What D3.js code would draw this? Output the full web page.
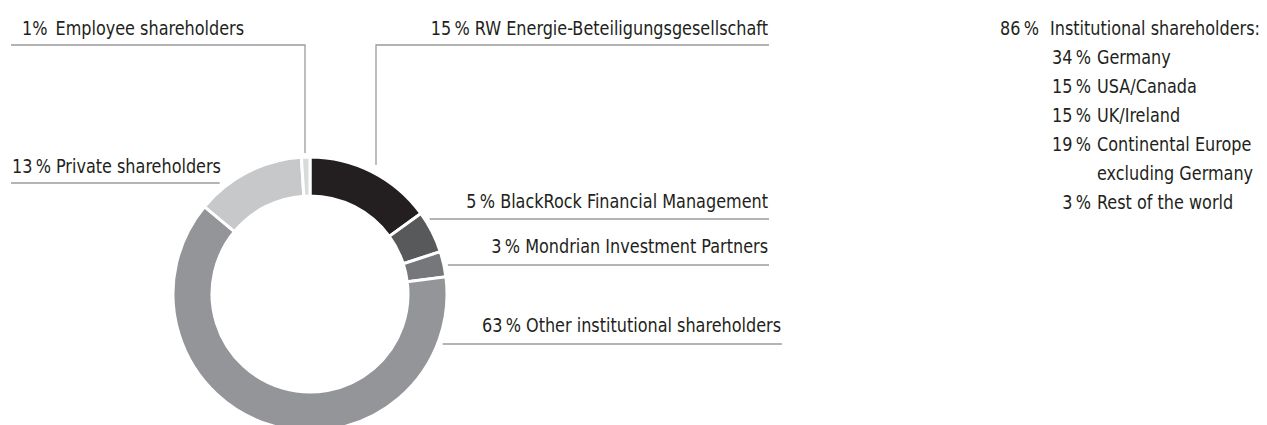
<!DOCTYPE html>
<html>
<head>
<meta charset="utf-8" />
<title>Shareholder structure</title>
<style>
    body { margin: 0; background: #fff; }
    svg text {
        font-family: "Liberation Sans Narrow", "DejaVu Sans Condensed", "Roboto", sans-serif;
        font-size: 19px;
        fill: #231f20;
    }
    .leader { stroke: #9a9b9e; stroke-width: 1.3px; fill: none; }
</style>
</head>
<body>
<div id="chart"></div>
<script src="https://cdn.jsdelivr.net/npm/d3@7"></script>
<script>
// shareholder groups, clockwise from 12 o'clock
var groups = ["RW Energie-Beteiligungsgesellschaft", "BlackRock Financial Management",
    "Mondrian Investment Partners", "Other institutional shareholders",
    "Private shareholders", "Employee shareholders"];
var shares = [15, 5, 3, 63, 13, 1];
var sliceColors = ["#231f20", "#58595b", "#76777a", "#939598", "#c7c8ca", "#d9dadc"];

// institutional shareholders by region
var instTotal = 86;
var regions = ["Germany", "USA/Canada", "UK/Ireland", "Continental Europe\nexcluding Germany", "Rest of the world"];
var regionShares = [34, 15, 15, 19, 3];

var width = 1267, height = 425;
var cx = 310, cy = 294, R = 137, r = 98;
var squeeze = 0.94; // condensed look

var svg = d3.select("#chart").append("svg")
    .attr("width", width).attr("height", height);

function addText(g, x, y, str, anchor) {
    return g.append("text")
        .attr("transform", "translate(" + x + "," + y + ") scale(" + squeeze + ",1)")
        .attr("text-anchor", anchor || "start")
        .text(str);
}

var pie = d3.pie().sort(null).value(function(d) { return d; });
var arc = d3.arc().innerRadius(r).outerRadius(R);
var arcs = pie(shares);

var ring = svg.append("g").attr("transform", "translate(" + cx + "," + cy + ")");
ring.selectAll("path")
    .data(arcs)
    .enter().append("path")
    .attr("d", arc)
    .attr("fill", function(d, i) { return sliceColors[i]; })
    .attr("stroke", "#fff")
    .attr("stroke-width", 3);

// label layout (index into groups)
var labelLayout = [
    { i: 0, type: "top", anchor: "end", tx: 768, ty: 35, lineY: 45, far: 769, vx: 376, gap: 9 },
    { i: 1, type: "side", anchor: "end", tx: 768, ty: 208, lineY: 219, far: 769, gap: 5 },
    { i: 2, type: "side", anchor: "end", tx: 768, ty: 253, lineY: 265, far: 769, gap: 4 },
    { i: 3, type: "side", anchor: "end", tx: 781, ty: 332, lineY: 344, far: 782, gap: 5 },
    { i: 4, type: "side", anchor: "start", tx: 12, ty: 173, lineY: 183, far: 11, gap: 10 },
    { i: 5, type: "top", anchor: "start", tx: 22, ty: 35, lineY: 45, far: 11, vx: 305, gap: 4 }
];

function pct(v) { return v + "\u2009%"; }

var labels = svg.append("g");
labelLayout.forEach(function(L) {
    var txt = L.i === 5 ? shares[L.i] + "%\u2002" + groups[L.i] : pct(shares[L.i]) + " " + groups[L.i];
    addText(labels, L.tx, L.ty, txt, L.anchor);

    var pts;
    if (L.type === "top") {
        var dx = L.vx - cx;
        var yEnd = cy - Math.sqrt(R * R - dx * dx) - L.gap;
        pts = [[L.far, L.lineY], [L.vx, L.lineY], [L.vx, yEnd]];
    } else {
        var dy = L.lineY - cy;
        var half = Math.sqrt(R * R - dy * dy);
        var xEnd = L.anchor === "end" ? cx + half + L.gap : cx - half - L.gap;
        pts = [[L.far, L.lineY], [xEnd, L.lineY]];
    }
    labels.append("path")
        .attr("class", "leader")
        .attr("d", d3.line()(pts));
});

// regional breakdown block
var block = svg.append("g");
var lineH = 29, top0 = 35;
addText(block, 1039, top0, pct(instTotal), "end");
addText(block, 1050, top0, "Institutional shareholders:");

var row = 1;
regions.forEach(function(name, k) {
    var parts = name.split("\n");
    addText(block, 1091, top0 + row * lineH, pct(regionShares[k]), "end");
    parts.forEach(function(p, j) {
        addText(block, 1097, top0 + (row + j) * lineH, p);
    });
    row += parts.length;
});
</script>
</body>
</html>
